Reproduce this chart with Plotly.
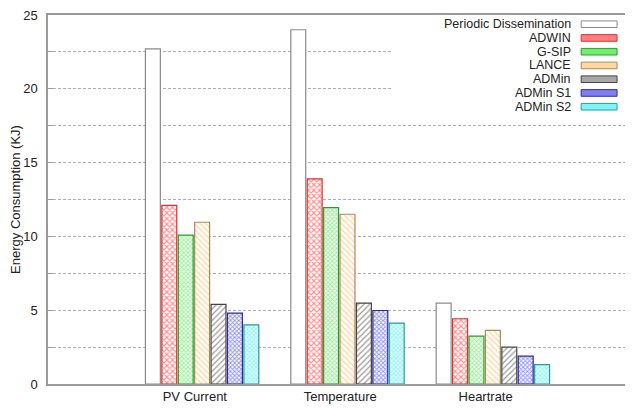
import plotly.graph_objects as go

categories = ["PV Current", "Temperature", "Heartrate"]
series_names = ["Periodic Dissemination", "ADWIN", "G-SIP", "LANCE", "ADMin", "ADMin S1", "ADMin S2"]
periodic = [22.7, 24.0, 5.48]
adwin = [12.1, 13.9, 4.42]
gsip = [10.08, 11.95, 3.25]
lance = [10.96, 11.5, 3.63]
admin = [5.39, 5.48, 2.5]
admin_s1 = [4.8, 4.98, 1.89]
admin_s2 = [4.01, 4.13, 1.31]
y_ticks = [0, 2.5, 5, 7.5, 10, 12.5, 15, 17.5, 20, 22.5, 25]
y_tick_labels = ["0", "", "5", "", "10", "", "15", "", "20", "", "25"]

values = [periodic, adwin, gsip, lance, admin, admin_s1, admin_s2]
styles = [
    dict(line="#8a8a8a", shape="", fg="#ffffff", size=6, sol=0.3, key="#ffffff"),
    dict(line="#e03030", shape="x", fg="#ff2020", size=4, sol=0.5, key="#ff8080"),
    dict(line="#2a9a2a", shape="x", fg="#33e033", size=3, sol=0.55, key="#70ee70"),
    dict(line="#a88a5a", shape="\\", fg="#ffaa33", size=4, sol=0.3, key="#ffd8a0"),
    dict(line="#444444", shape="/", fg="#333333", size=4, sol=0.3, key="#a8a8a8"),
    dict(line="#2a2a9a", shape="x", fg="#2a2aee", size=3, sol=0.55, key="#8080f0"),
    dict(line="#2a9a9a", shape="x", fg="#33eeee", size=3, sol=0.65, key="#80f4f4"),
]

xpos = list(range(len(categories)))
fig = go.Figure()
for name, vals, st in zip(series_names, values, styles):
    fig.add_trace(go.Bar(
        name=name, x=xpos, y=vals, showlegend=False,
        marker=dict(color="#ffffff", line=dict(color=st["line"], width=1.2),
                    pattern=dict(shape=st["shape"], fgcolor=st["fg"], bgcolor="#ffffff",
                                 size=st["size"], solidity=st["sol"], fillmode="overlay")),
    ))

# Legend (gnuplot style: right-aligned labels with key sample on the right)
W, H = 625, 401
ML, MR, MT, MB = 40, 0, 7, 25
PW, PH = W - ML - MR, H - MT - MB
OFF = 8  # browser body margin


def px(x):
    return (x - OFF - ML) / PW


def py(y):
    return 1 - (y - OFF - MT) / PH


shapes = [dict(type="rect", xref="paper", yref="paper", layer="above",
               x0=px(393), x1=px(627), y0=py(115), y1=py(15.5),
               fillcolor="white", line=dict(width=0))]
annotations = []
row0, step = 24.2, 13.75
for i, (name, st) in enumerate(zip(series_names, styles)):
    yc = row0 + i * step
    shapes.append(dict(type="rect", xref="paper", yref="paper", layer="above",
                       x0=px(583), x1=px(619), y0=py(yc + 3.3), y1=py(yc - 3.3),
                       fillcolor=st["key"], line=dict(color=st["line"], width=1)))
    annotations.append(dict(text=name, xref="paper", yref="paper", x=px(574), y=py(yc),
                            xanchor="right", yanchor="middle", showarrow=False,
                            borderpad=0, font=dict(size=12.5, color="#222")))

fig.update_layout(
    width=W, height=H,
    margin=dict(l=ML, r=MR, t=MT, b=MB),
    barmode="group", bargap=0.21, bargroupgap=0.09,
    plot_bgcolor="white", paper_bgcolor="white",
    font=dict(family="Liberation Sans, Arial, sans-serif", size=13, color="#222"),
    showlegend=False,
    shapes=shapes, annotations=annotations,
)
fig.update_xaxes(
    range=[-1.06, 2.95], tickvals=[i - 0.05 for i in xpos], ticktext=categories,
    showgrid=False, zeroline=False, showline=True, linecolor="#9a9a9a", linewidth=1.5,
    mirror=True, ticks="", tickfont=dict(size=13),
)
fig.update_yaxes(
    range=[0, 25], tickvals=y_ticks, ticktext=y_tick_labels,
    showgrid=True, gridcolor="#b0b0b0", griddash="3px,2px", gridwidth=1,
    zeroline=False, showline=True, linecolor="#9a9a9a", linewidth=1.5, mirror=True,
    ticks="inside", ticklen=5, tickcolor="#9a9a9a", ticklabelstandoff=6,
    ticklabeloverflow="allow", tickfont=dict(size=13),
    title=dict(text="Energy Consumption (KJ)", font=dict(size=13), standoff=3),
)
fig.write_html("out.html")
